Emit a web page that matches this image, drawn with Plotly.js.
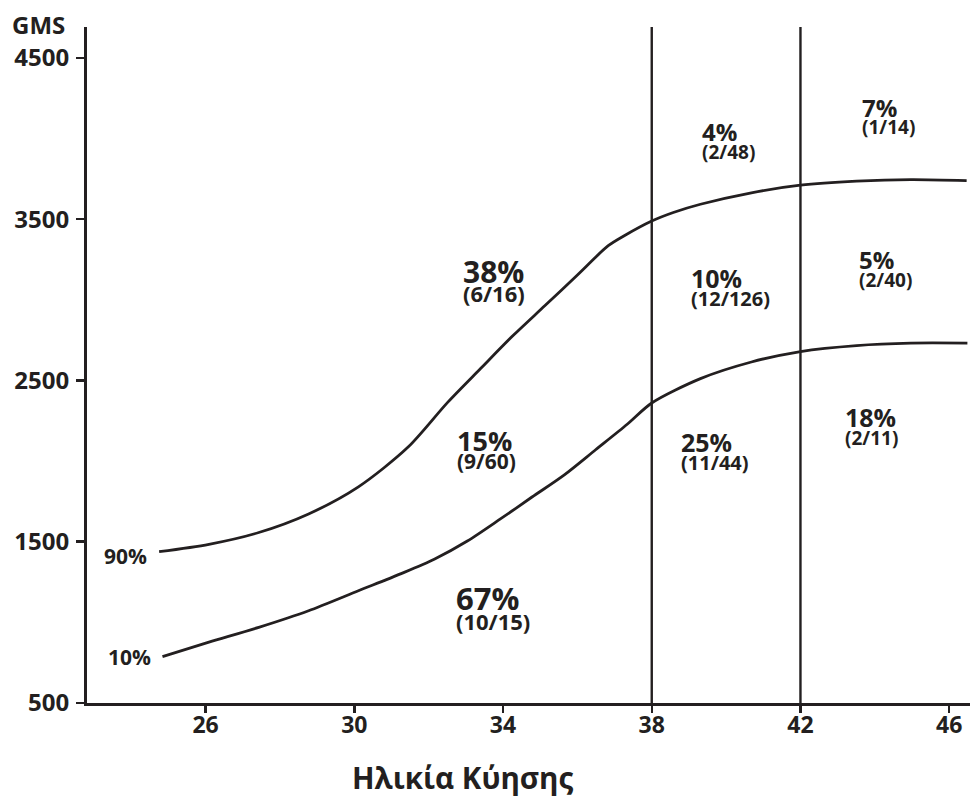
<!DOCTYPE html>
<html>
<head>
<meta charset="utf-8">
<script src="https://cdn.plot.ly/plotly-3.0.1.min.js"></script>
<style>
  html, body { margin: 0; padding: 0; background: #ffffff; }
  #chart { width: 970px; height: 797px; }
</style>
</head>
<body>
<div id="chart"></div>
<script>
// ---- data ----
// gestational age (weeks) and birth weight (g) of the 90th percentile curve
var weeks90 = [24.75, 26.09, 27.43, 28.77, 30.11, 31.44, 32.51, 33.39, 34.27, 35.13, 35.98, 36.83, 37.26, 38.0, 38.58, 39.31, 40.68, 42.0, 43.51, 44.97, 46.47];
var gms90   = [1438, 1484, 1557, 1672, 1840, 2085, 2364, 2572, 2778, 2964, 3149, 3335, 3397, 3488, 3541, 3592, 3663, 3710, 3735, 3745, 3739];
// 10th percentile curve
var weeks10 = [24.84, 26.09, 27.43, 28.77, 30.11, 31.26, 32.15, 33.04, 33.93, 34.78, 35.64, 36.49, 37.34, 38.0, 39.31, 40.68, 42.0, 43.51, 44.97, 46.49];
var gms10   = [788, 877, 969, 1072, 1196, 1302, 1391, 1504, 1641, 1777, 1913, 2070, 2228, 2360, 2511, 2614, 2679, 2716, 2731, 2731];

var curveNames = ['90%', '10%'];
var boundaryWeeks = [38, 42];

var xTickVals = [26, 30, 34, 38, 42, 46];
var yTickVals = [500, 1500, 2500, 3500, 4500];

// cell labels: percentage and (cases/total)
var cellPct  = ['38%', '15%', '67%', '4%', '10%', '25%', '7%', '5%', '18%'];
var cellFrac = ['(6/16)', '(9/60)', '(10/15)', '(2/48)', '(12/126)', '(11/44)', '(1/14)', '(2/40)', '(2/11)'];

var yAxisTitle = 'GMS';
var xAxisTitle = 'Ηλικία Κύησης';

// ---- placement / style (not data) ----
var INK = '#231f20';
var FONT = '"Open Sans", "Noto Sans", "DejaVu Sans", sans-serif';
var cellPos  = [[32.88, 3123], [32.72, 2075], [32.69, 1099], [39.29, 3992], [38.99, 3085], [38.73, 2067], [43.59, 4141], [43.52, 3197], [43.14, 2218]];
var pctSize  = [30, 27, 31, 24, 25, 25, 24, 24, 25];
var fracSize = [22, 21, 22, 19, 20, 20, 19, 19, 19];
var lineBase = [14.6, 13.8, 15.4, 13.7, 14.2, 14.1, 13.3, 13.8, 13.8];
var curveLabelPos = [[23.2, 1412], [23.32, 788]];

var traces = [
  { x: weeks90, y: gms90, name: curveNames[0], mode: 'lines', line: { color: INK, width: 2.8, shape: 'spline', smoothing: 0.8 }, hoverinfo: 'x+y' },
  { x: weeks10, y: gms10, name: curveNames[1], mode: 'lines', line: { color: INK, width: 2.8, shape: 'spline', smoothing: 0.8 }, hoverinfo: 'x+y' }
];

var shapes = boundaryWeeks.map(function (w) {
  return { type: 'line', xref: 'x', yref: 'paper', x0: w, x1: w, y0: 0, y1: 1, line: { color: INK, width: 2.4 } };
});

var annotations = [];
cellPct.forEach(function (t, i) {
  annotations.push({
    x: cellPos[i][0], y: cellPos[i][1], xref: 'x', yref: 'y',
    text: '<span style="font-size:' + pctSize[i] + 'px"><b>' + t + '</b></span><br>' +
          '<span style="font-size:' + fracSize[i] + 'px"><b>' + cellFrac[i] + '</b></span>',
    showarrow: false, xanchor: 'left', yanchor: 'middle', align: 'left',
    font: { family: FONT, size: lineBase[i], color: INK }
  });
});
curveNames.forEach(function (t, i) {
  annotations.push({ x: curveLabelPos[i][0], y: curveLabelPos[i][1], xref: 'x', yref: 'y', text: '<b>' + t + '</b>', showarrow: false, xanchor: 'left', yanchor: 'middle', font: { family: FONT, size: 21, color: INK } });
});
annotations.push({ x: -0.055, y: 1.004, xref: 'paper', yref: 'paper', text: '<b>' + yAxisTitle + '</b>', showarrow: false, xanchor: 'center', yanchor: 'middle', font: { family: FONT, size: 24, color: INK } });
annotations.push({ x: 0.4247, y: -0.1095, xref: 'paper', yref: 'paper', text: '<b>' + xAxisTitle + '</b>', showarrow: false, xanchor: 'center', yanchor: 'middle', font: { family: FONT, size: 29.5, color: INK } });

var layout = {
  width: 970, height: 797,
  margin: { l: 87, r: 0, t: 27, b: 94, pad: 0 },
  paper_bgcolor: '#ffffff', plot_bgcolor: '#ffffff',
  showlegend: false,
  xaxis: {
    range: [22.81, 46.56], tickvals: xTickVals, ticks: 'outside', ticklen: 7, tickwidth: 2.5, tickcolor: INK,
    showline: true, linecolor: INK, linewidth: 3, showgrid: false, zeroline: false,
    tickfont: { family: FONT, size: 23, color: INK, weight: 'bold' }, ticklabelstandoff: -8
  },
  yaxis: {
    range: [500, 4691], tickvals: yTickVals, ticks: 'outside', ticklen: 8, tickwidth: 2.5, tickcolor: INK,
    showline: true, linecolor: INK, linewidth: 3, showgrid: false, zeroline: false,
    tickfont: { family: FONT, size: 24, color: INK, weight: 'bold' }, ticklabelstandoff: 2
  },
  shapes: shapes,
  annotations: annotations
};

Plotly.newPlot('chart', traces, layout, { displayModeBar: false, staticPlot: true });
</script>
</body>
</html>
